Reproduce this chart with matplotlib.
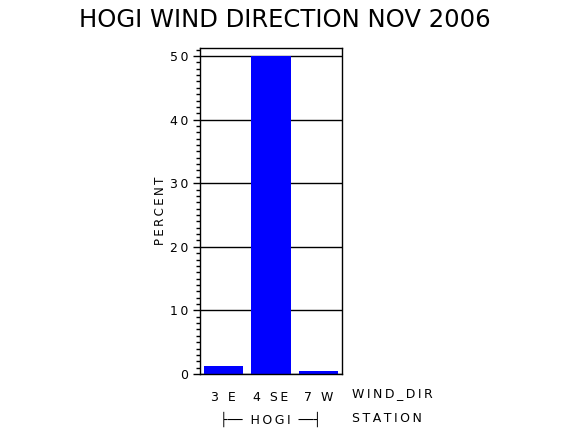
import matplotlib
matplotlib.use("Agg")
import matplotlib.pyplot as plt
from matplotlib.ticker import MultipleLocator

# data
categories = ['3 E', '4 SE', '7 W']
percent = [1.3, 50.0, 0.5]
station = 'HOGI'
title_text = 'HOGI WIND DIRECTION NOV 2006'

TS = '\u2009'  # thin space, to imitate the letter-spaced original font


def spaced(s):
    return TS.join(s)


fig = plt.figure(figsize=(5.7, 4.3), dpi=100)
ax = fig.add_axes([0.3509, 0.1302, 0.2491, 0.7582])

x = list(range(len(categories)))
ax.bar(x, percent, width=0.83, color='#0000ff', zorder=2)

ax.set_xlim(-0.5, len(categories) - 0.5)
ax.set_ylim(0, 51.26)
ax.yaxis.set_major_locator(MultipleLocator(10))
ax.yaxis.set_minor_locator(MultipleLocator(1))
ax.grid(axis='y', which='major', color='black', linewidth=1, zorder=1)
ax.tick_params(axis='y', which='major', direction='out', length=5, width=1,
               labelsize=9)
ax.tick_params(axis='y', which='minor', direction='out', length=3, width=1)
ax.set_yticklabels([spaced(str(int(v))) for v in ax.get_yticks()])

ax.set_xticks(x)
ax.set_xticklabels([spaced(c) for c in categories], fontsize=9)
ax.tick_params(axis='x', length=0, pad=12)

for sp in ax.spines.values():
    sp.set_linewidth(1)

ax.set_ylabel(spaced('PERCENT'), fontsize=8.5, labelpad=2)

fig.text(352 / 570, 1 - 394 / 430, spaced('WIND_DIR'), fontsize=9,
         ha='left', va='center')
fig.text(352 / 570, 1 - 419 / 430, spaced('STATION'), fontsize=9,
         ha='left', va='center')
fig.text(271 / 570, 1 - 419 / 430, '\u251c\u2500\u2500  ' + spaced(station)
         + '  \u2500\u2500\u2524', fontsize=9, ha='center', va='center')

fig.suptitle(title_text, fontsize=17.5, y=1 - 20 / 430, va='center')

fig.savefig('out.png', dpi=100)
